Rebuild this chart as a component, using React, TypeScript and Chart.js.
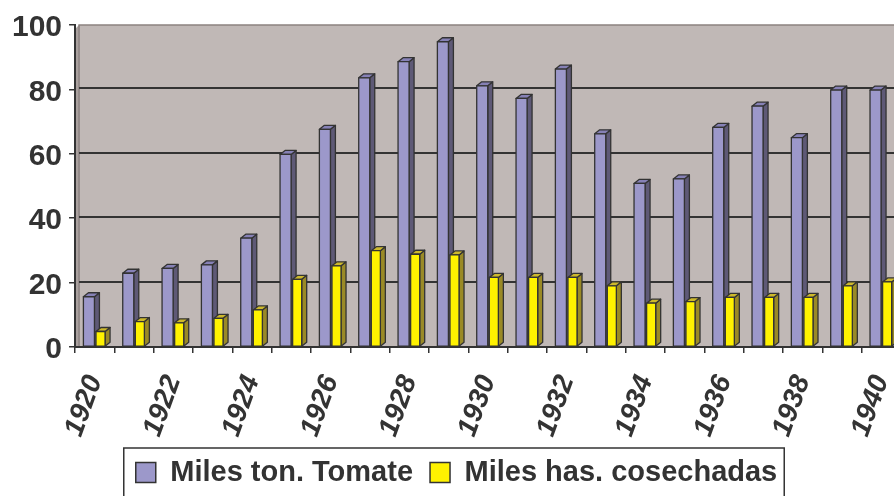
import { useEffect, useRef } from 'react';
import { Chart, registerables } from 'chart.js';

Chart.register(...registerables);

// Years on the category axis
const years = [
  '1920', '1921', '1922', '1923', '1924', '1925', '1926', '1927', '1928', '1929', '1930',
  '1931', '1932', '1933', '1934', '1935', '1936', '1937', '1938', '1939', '1940',
];

// Production, thousands of tonnes
const tomate = [
  15.6, 22.9, 24.4, 25.5, 33.8, 59.8, 67.6, 83.6, 88.6, 94.8, 81.1,
  77.2, 86.3, 66.2, 50.8, 52.2, 68.2, 74.8, 65.0, 79.8, 79.8,
];

// Harvested area, thousands of hectares
const cosechadas = [
  4.8, 7.9, 7.5, 8.9, 11.5, 21.0, 25.2, 29.9, 28.8, 28.6, 21.6,
  21.6, 21.6, 19.0, 13.6, 14.1, 15.4, 15.4, 15.4, 19.0, 20.2,
];

const seriesNames = ['Miles ton. Tomate', 'Miles has. cosechadas'];

const FONT = "'Liberation Sans', Arial, Helvetica, sans-serif";
const INK = '#333333';
const WALL = '#C0B8B6';
const DX = 5; // extrusion depth, horizontal
const DY = 4; // extrusion depth, vertical

const faces = [
  { front: '#9C98CA', side: '#5E5976', top: '#8681B6' },
  { front: '#FFF200', side: '#9A8A26', top: '#CDB92C' },
];

type Pt = [number, number];

function poly(ctx: CanvasRenderingContext2D, pts: Pt[], fill: string) {
  ctx.beginPath();
  ctx.moveTo(pts[0][0], pts[0][1]);
  for (let i = 1; i < pts.length; i++) ctx.lineTo(pts[i][0], pts[i][1]);
  ctx.closePath();
  ctx.fillStyle = fill;
  ctx.fill();
  ctx.stroke();
}

// Back wall with its gridlines
const wallPlugin = {
  id: 'wall',
  beforeDraw(chart: any) {
    const { ctx, chartArea: a, scales } = chart;
    const ys = scales.y;
    ctx.save();
    ctx.fillStyle = '#A9A09E';
    ctx.beginPath();
    ctx.moveTo(a.left, a.top + 4);
    ctx.lineTo(a.left + 4, a.top);
    ctx.lineTo(a.left + 4, a.bottom);
    ctx.lineTo(a.left, a.bottom);
    ctx.closePath();
    ctx.fill();
    ctx.fillStyle = WALL;
    ctx.fillRect(a.left + 4, a.top, a.right - a.left - 4, a.bottom - a.top);
    ctx.strokeStyle = '#8C8280';
    ctx.lineWidth = 1.5;
    ctx.beginPath();
    ctx.moveTo(a.left + 4, a.bottom);
    ctx.lineTo(a.left + 4, a.top);
    ctx.lineTo(a.right, a.top);
    ctx.stroke();
    ctx.strokeStyle = INK;
    ctx.lineWidth = 2;
    ys.ticks.forEach((t: any) => {
      if (t.value <= ys.min || t.value >= ys.max) return;
      const py = Math.round(ys.getPixelForValue(t.value)) - 1;
      ctx.beginPath();
      ctx.moveTo(a.left + 4, py);
      ctx.lineTo(a.right, py);
      ctx.stroke();
    });
    ctx.restore();
  },
};

// Extruded bars: each series drawn in order so the second sits in front
const bars3dPlugin = {
  id: 'bars3d',
  beforeDatasetsDraw(chart: any) {
    const ctx: CanvasRenderingContext2D = chart.ctx;
    ctx.save();
    ctx.lineWidth = 1.3;
    ctx.strokeStyle = INK;
    ctx.lineJoin = 'round';
    chart.data.datasets.forEach((_ds: any, di: number) => {
      const meta = chart.getDatasetMeta(di);
      if (meta.hidden) return;
      const c = faces[di];
      meta.data.forEach((el: any) => {
        const { x, y, base, width } = el.getProps(['x', 'y', 'base', 'width'], true);
        const l = x - width / 2;
        const r = x + width / 2;
        poly(ctx, [[r, y], [r + DX, y - DY], [r + DX, base - DY], [r, base]], c.side);
        poly(ctx, [[l, y], [l + DX, y - DY], [r + DX, y - DY], [r, y]], c.top);
        ctx.fillStyle = c.front;
        ctx.fillRect(l, y, width, base - y);
        ctx.strokeRect(l, y, width, base - y);
      });
    });
    ctx.restore();
    return false;
  },
};

// Frame around the legend row
const legendFramePlugin = {
  id: 'legendFrame',
  afterDraw(chart: any) {
    const boxes = chart.legend?.legendHitBoxes;
    if (!boxes || !boxes.length) return;
    const first = boxes[0];
    const last = boxes[boxes.length - 1];
    const left = first.left - 12;
    const right = last.left + last.width + 7;
    const top = first.top - 10;
    const ctx: CanvasRenderingContext2D = chart.ctx;
    ctx.save();
    ctx.strokeStyle = INK;
    ctx.lineWidth = 1.5;
    ctx.strokeRect(left, top, right - left, chart.height - top + 20);
    ctx.restore();
  },
};

export default function App() {
  const ref = useRef<HTMLCanvasElement>(null);

  useEffect(() => {
    const chart = new Chart(ref.current as HTMLCanvasElement, {
      type: 'bar',
      data: {
        labels: years,
        datasets: [
          {
            label: seriesNames[0],
            data: tomate,
            backgroundColor: faces[0].front,
            borderColor: INK,
            borderWidth: 1.5,
            categoryPercentage: 0.59,
            barPercentage: 0.95,
          },
          {
            label: seriesNames[1],
            data: cosechadas,
            backgroundColor: faces[1].front,
            borderColor: INK,
            borderWidth: 1.5,
            categoryPercentage: 0.59,
            barPercentage: 0.78,
          },
        ],
      },
      options: {
        responsive: false,
        animation: false,
        devicePixelRatio: 1,
        layout: { padding: { left: 12, right: 3, top: 25, bottom: 0 } },
        scales: {
          x: {
            offset: true,
            grid: {
              offset: true,
              drawOnChartArea: false,
              drawTicks: true,
              tickLength: 6,
              color: INK,
              lineWidth: 1.5,
            },
            border: { display: true, color: INK, width: 2 },
            ticks: {
              autoSkip: false,
              minRotation: 70,
              maxRotation: 70,
              padding: 18,
              color: INK,
              font: { family: FONT, size: 28, weight: 'bold', style: 'italic' },
              callback: (_v: any, i: number) => (i % 2 === 0 ? years[i] : ''),
            },
            // the plot runs to the right edge; tick padding counted once
            afterFit: (s: any) => {
              s.paddingRight = 0;
              s.height -= s.options.ticks.padding;
            },
          },
          y: {
            min: 0,
            max: 100,
            grid: {
              drawOnChartArea: false,
              drawTicks: true,
              tickLength: 6,
              color: INK,
              lineWidth: 1.5,
            },
            border: { display: true, color: INK, width: 2 },
            ticks: {
              stepSize: 20,
              padding: 7,
              labelOffset: 3,
              color: INK,
              font: { family: FONT, size: 30, weight: 'bold' },
            },
            afterFit: (s: any) => {
              s.width -= s.options.ticks.padding;
            },
          },
        },
        plugins: {
          legend: {
            position: 'bottom',
            labels: {
              boxWidth: 20,
              boxHeight: 20,
              padding: 17,
              color: INK,
              font: { family: FONT, size: 29, weight: 'bold' },
            },
          },
          tooltip: { enabled: false },
        },
      },
      plugins: [wallPlugin, bars3dPlugin, legendFramePlugin],
    } as any);
    return () => chart.destroy();
  }, []);

  return (
    <div
      style={{
        position: 'fixed',
        left: 0,
        top: 0,
        width: 894,
        height: 496,
        overflow: 'hidden',
        background: '#ffffff',
      }}
    >
      <canvas ref={ref} width={904} height={497} style={{ display: 'block', width: 904, height: 497 }} />
    </div>
  );
}
